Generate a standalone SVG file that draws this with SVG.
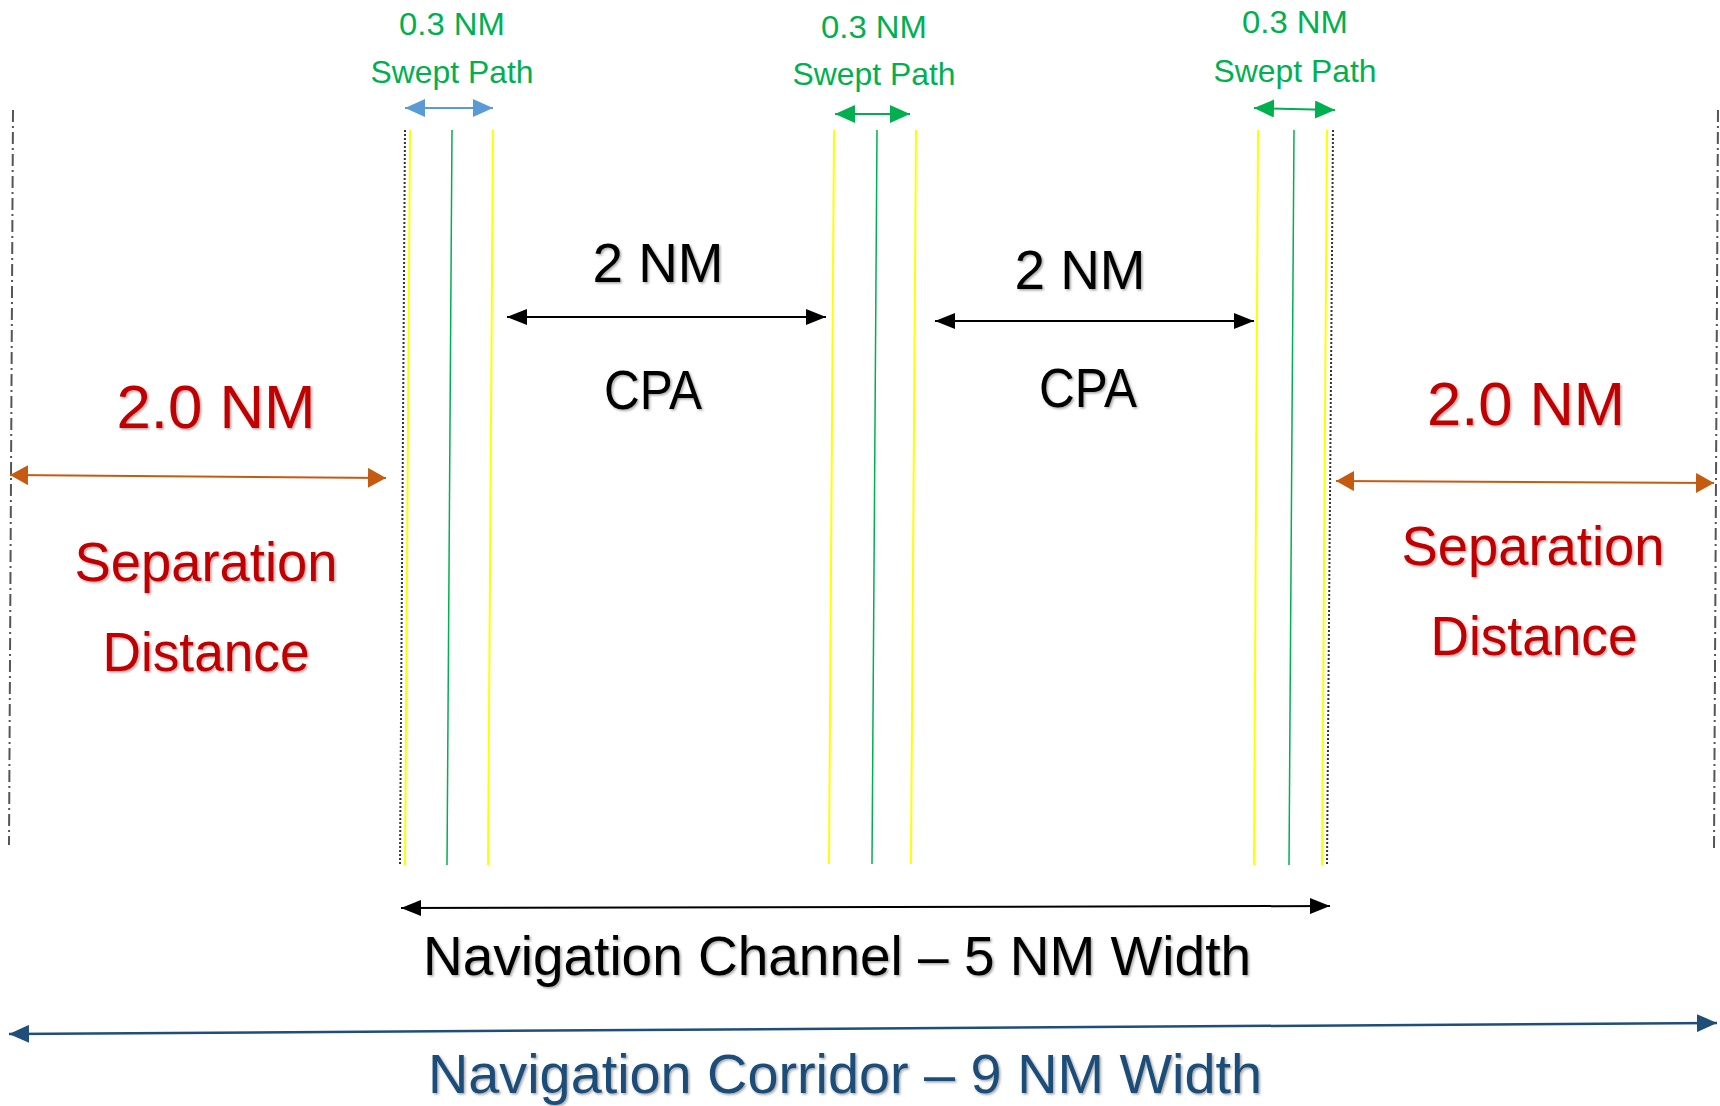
<svg xmlns="http://www.w3.org/2000/svg" width="1720" height="1106" viewBox="0 0 1720 1106">
<style>
text{font-family:"Liberation Sans",Arial,sans-serif;text-anchor:middle}
.sm{font-size:32px;fill:#00B050}
.big{font-size:55px;fill:#000}
.red{font-size:62px;fill:#C00000}
.sep{font-size:55px;fill:#C00000}
.nav{font-size:55px;fill:#000}
.cor{font-size:55px;fill:#1F4E79}
.sh{filter:url(#shadow)}
.edge{stroke:#555;stroke-width:2;stroke-dasharray:12 4 2 4;fill:none}
.dot{stroke:#333;stroke-width:2;stroke-dasharray:2 2;fill:none}
.yel{stroke:#FFFF00;stroke-width:2;fill:none}
.grn{stroke:#00B050;stroke-width:1.5;fill:none}
</style>
<defs>
<filter id="shadow" x="-10%" y="-20%" width="120%" height="150%">
<feDropShadow dx="1.5" dy="1.5" stdDeviation="1.2" flood-color="#000" flood-opacity="0.35"/>
</filter>
<marker id="aBlk" markerUnits="userSpaceOnUse" viewBox="0 0 20 16" refX="20" refY="8" markerWidth="20" markerHeight="16" orient="auto-start-reverse"><path d="M0,0 L20,8 L0,16 Z" fill="#000"/></marker>
<marker id="aOr" markerUnits="userSpaceOnUse" viewBox="0 0 18 20" refX="18" refY="10" markerWidth="18" markerHeight="20" orient="auto-start-reverse"><path d="M0,0 L18,10 L0,20 Z" fill="#C55A11"/></marker>
<marker id="aNv" markerUnits="userSpaceOnUse" viewBox="0 0 20 18" refX="20" refY="9" markerWidth="20" markerHeight="18" orient="auto-start-reverse"><path d="M0,0 L20,9 L0,18 Z" fill="#1F4E79"/></marker>
<marker id="aBl" markerUnits="userSpaceOnUse" viewBox="0 0 20 18" refX="20" refY="9" markerWidth="20" markerHeight="18" orient="auto-start-reverse"><path d="M0,0 L20,9 L0,18 Z" fill="#5B9BD5"/></marker>
<marker id="aGr" markerUnits="userSpaceOnUse" viewBox="0 0 20 18" refX="20" refY="9" markerWidth="20" markerHeight="18" orient="auto-start-reverse"><path d="M0,0 L20,9 L0,18 Z" fill="#00B050"/></marker>
</defs>
<rect width="1720" height="1106" fill="#fff"/>

<g id="lines">
<line class="edge" x1="13" y1="110" x2="9" y2="845"/>
<line class="edge" x1="1718" y1="110" x2="1714" y2="850"/>
<g id="lane1">
<line class="yel" x1="410" y1="130" x2="405" y2="865"/>
<line class="dot" x1="405" y1="130" x2="400" y2="865"/>
<line class="grn" x1="452" y1="130" x2="447" y2="865"/>
<line class="yel" x1="493" y1="130" x2="488" y2="865"/>
</g>
<g id="lane2">
<line class="yel" x1="834" y1="130" x2="829" y2="864"/>
<line class="grn" x1="877" y1="130" x2="872" y2="864"/>
<line class="yel" x1="916" y1="130" x2="911" y2="864"/>
</g>
<g id="lane3">
<line class="yel" x1="1258" y1="130" x2="1254" y2="865"/>
<line class="grn" x1="1294" y1="130" x2="1289" y2="865"/>
<line class="yel" x1="1327" y1="130" x2="1322" y2="865"/>
<line class="dot" x1="1333" y1="130" x2="1327" y2="865"/>
</g>
</g>

<g id="connectors">
<line x1="405" y1="108" x2="493" y2="108" stroke="#5B9BD5" stroke-width="2" marker-start="url(#aBl)" marker-end="url(#aBl)"/>
<line x1="835" y1="114" x2="910" y2="114" stroke="#00B050" stroke-width="2" marker-start="url(#aGr)" marker-end="url(#aGr)"/>
<line x1="1254" y1="108" x2="1335" y2="110" stroke="#00B050" stroke-width="2" marker-start="url(#aGr)" marker-end="url(#aGr)"/>
<line x1="507" y1="317" x2="826" y2="317" stroke="#000" stroke-width="2" marker-start="url(#aBlk)" marker-end="url(#aBlk)"/>
<line x1="935" y1="321" x2="1254" y2="321" stroke="#000" stroke-width="2" marker-start="url(#aBlk)" marker-end="url(#aBlk)"/>
<line x1="10" y1="475" x2="386" y2="478" stroke="#C55A11" stroke-width="2" marker-start="url(#aOr)" marker-end="url(#aOr)"/>
<line x1="1336" y1="481" x2="1714" y2="483" stroke="#C55A11" stroke-width="2" marker-start="url(#aOr)" marker-end="url(#aOr)"/>
<line x1="401" y1="908" x2="1330" y2="906" stroke="#000" stroke-width="2" marker-start="url(#aBlk)" marker-end="url(#aBlk)"/>
<line x1="9" y1="1034" x2="1717" y2="1023" stroke="#1F4E79" stroke-width="2.5" marker-start="url(#aNv)" marker-end="url(#aNv)"/>
</g>

<g id="swept1">
<text class="sm" x="452" y="35" textLength="106" lengthAdjust="spacingAndGlyphs">0.3 NM</text>
<text class="sm" x="452" y="83" textLength="163" lengthAdjust="spacingAndGlyphs">Swept Path</text>
</g>
<g id="swept2">
<text class="sm" x="874" y="38" textLength="106" lengthAdjust="spacingAndGlyphs">0.3 NM</text>
<text class="sm" x="874" y="85" textLength="163" lengthAdjust="spacingAndGlyphs">Swept Path</text>
</g>
<g id="swept3">
<text class="sm" x="1295" y="33" textLength="106" lengthAdjust="spacingAndGlyphs">0.3 NM</text>
<text class="sm" x="1295" y="82" textLength="163" lengthAdjust="spacingAndGlyphs">Swept Path</text>
</g>
<g id="cpa1">
<text class="big sh" x="658" y="282" textLength="131" lengthAdjust="spacingAndGlyphs">2 NM</text>
<text class="big sh" x="653" y="409" textLength="98" lengthAdjust="spacingAndGlyphs">CPA</text>
</g>
<g id="cpa2">
<text class="big sh" x="1080" y="289" textLength="131" lengthAdjust="spacingAndGlyphs">2 NM</text>
<text class="big sh" x="1088" y="407" textLength="98" lengthAdjust="spacingAndGlyphs">CPA</text>
</g>
<g id="sepLeft">
<text class="red sh" x="216" y="428" textLength="199" lengthAdjust="spacingAndGlyphs">2.0 NM</text>
<text class="sep sh" x="206" y="581" textLength="263" lengthAdjust="spacingAndGlyphs">Separation</text>
<text class="sep sh" x="206" y="671" textLength="207" lengthAdjust="spacingAndGlyphs">Distance</text>
</g>
<g id="sepRight">
<text class="red sh" x="1526" y="425" textLength="198" lengthAdjust="spacingAndGlyphs">2.0 NM</text>
<text class="sep sh" x="1533" y="565" textLength="263" lengthAdjust="spacingAndGlyphs">Separation</text>
<text class="sep sh" x="1534" y="655" textLength="207" lengthAdjust="spacingAndGlyphs">Distance</text>
</g>
<g id="channel">
<text class="nav sh" x="837" y="975" textLength="828" lengthAdjust="spacingAndGlyphs">Navigation Channel – 5 NM Width</text>
</g>
<g id="corridor">
<text class="cor sh" x="845" y="1093" textLength="834" lengthAdjust="spacingAndGlyphs">Navigation Corridor – 9 NM Width</text>
</g>
</svg>
